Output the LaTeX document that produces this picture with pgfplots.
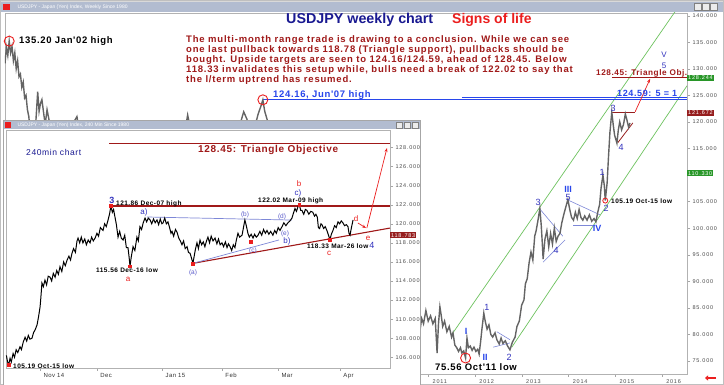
\documentclass[border=0pt]{standalone}
\usepackage{pgfplots}
\pgfplotsset{compat=1.18}
\usepackage{fontspec}
\setmainfont{Liberation Sans}
\newfontfamily\ann[LetterSpace=7]{Liberation Sans}
\newfontfamily\annp[LetterSpace=8.5]{Liberation Sans}
\newfontfamily\tk[LetterSpace=14]{Liberation Sans}
\usetikzlibrary{arrows.meta}
\definecolor{dred}{RGB}{160,25,25}
\definecolor{navy}{RGB}{25,25,145}
\definecolor{wblue}{RGB}{50,50,190}
\definecolor{lblue}{RGB}{40,70,235}
\definecolor{rred}{RGB}{235,30,30}
\definecolor{chg}{RGB}{110,195,95}
\definecolor{tbar}{RGB}{178,188,208}
\definecolor{pgray}{RGB}{100,100,100}
\definecolor{tri}{RGB}{125,135,215}
\definecolor{gbox}{RGB}{40,150,40}
\definecolor{rbox}{RGB}{150,30,30}
\newcommand{\fs}[1]{\fontsize{#1}{#1}\selectfont}
\begin{document}
\begin{tikzpicture}[x=1pt,y=1pt]
\useasboundingbox (0,0) rectangle (724,385);
\fill[white] (0,0) rectangle (724,385);
\fill[tbar] (0,373) rectangle (724,384);
\fill[gray!30] (0,383) rectangle (724,385);
\node[anchor=west,font=\fs{5},text=white] at (14,378) {USDJPY - Japan (Yen) Index, Weekly Since 1980};
\fill[rred] (3,375) rectangle (10,381);
\foreach \bx in {694,702,710}{\fill[gray!15] (\bx,374.5) rectangle (\bx+7,381.5); \draw[gray] (\bx,374.5) rectangle (\bx+7,381.5);}
\draw[gray!50] (0.5,0.5) rectangle (723.5,384.5);

% ================= WEEKLY AXIS =================
\begin{axis}[
  at={(5pt,11pt)}, anchor=south west,
  scale only axis, width=682pt, height=361pt,
  xmin=2001.94, xmax=2016.54, ymin=72.55, ymax=140.5,
  clip mode=individual,
  axis line style={gray!60},
  ytick={75,80,85,90,95,100,105,115,120,125,130,135,140}, ytick pos=right, yticklabel pos=right,
  extra y ticks={110}, extra y tick labels={},
  yticklabel={\pgfmathprintnumber[fixed,fixed zerofill,precision=3,assume math mode=true]{\tick}},
  yticklabel style={font=\tk\fs{5.5}, text=gray!60!black, xshift=-1pt},
  xtick={2011,2012,2013,2014,2015,2016}, xtick pos=left,
  xticklabels={2011,2012,2013,2014,2015,2016},
  xticklabel style={font=\tk\fs{5.5}, text=gray!60!black, anchor=north west, xshift=1pt, yshift=1pt},
  tick style={gray!70}, major tick length=3pt, tick align=outside,
]
% channel lines
\addplot[chg, line width=0.7pt] coordinates {(2011.53,80.3) (2016.54,144.0)};
\addplot[chg, line width=0.7pt] coordinates {(2012.79,77.6) (2016.54,126.8)};
% horizontal levels
\addplot[lblue, line width=0.9pt] coordinates {(2007.46,124.16) (2016.54,124.16)};
\addplot[lblue, line width=0.9pt] coordinates {(2011.72,124.59) (2016.54,124.59)};
\addplot[dred, line width=0.8pt] coordinates {(2014.93,128.45) (2016.54,128.45)};
\addplot[rbox, line width=0.8pt] coordinates {(2014.93,121.86) (2015.43,121.86)};
\addplot[rbox, line width=0.8pt] coordinates {(2015.06,116.1) (2015.38,119.8)};
\addplot[rred, line width=0.7pt, -{Stealth[length=4pt,width=3pt]}] coordinates {(2015.43,121.9) (2015.75,128.1)};
% triangles
\addplot[tri, line width=0.6pt] coordinates {(2013.39,103.6) (2013.88,98.5)};
\addplot[tri, line width=0.6pt] coordinates {(2013.46,93.6) (2013.93,97.8)};
\addplot[tri, line width=0.6pt] coordinates {(2013.99,105.3) (2014.68,102.5)};
\addplot[tri, line width=0.6pt] coordinates {(2014.10,100.6) (2014.57,100.6)};
\addplot[tri, line width=0.6pt] coordinates {(2012.47,80.5) (2012.75,79.0)};
\addplot[tri, line width=0.6pt] coordinates {(2012.39,77.6) (2012.75,78.4)};
% weekly price
\addplot[pgray, line width=1.4pt] coordinates {
(2001.94,131.0) (2001.97,134.0) (2002.0,132.5) (2002.03,135.2) (2002.06,133.0) (2002.09,134.2) (2002.12,131.5) (2002.15,133.0) (2002.18,130.0) (2002.21,131.5) (2002.24,128.5) (2002.27,129.0) (2002.3,126.5) (2002.33,127.5) (2002.36,124.5) (2002.39,125.0) (2002.42,122.3) (2002.45,121.0) (2002.48,118.0) (2002.52,116.5) (2002.56,117.5) (2002.6,120.0) (2002.64,125.7) (2002.67,122.0) (2002.7,123.5) (2002.73,124.2) (2002.77,121.5) (2002.8,119.5) (2002.84,122.3) (2002.88,120.5) (2002.92,118.5) (2003.0,118.0) (2003.2,117.5) (2003.35,119.0) (2003.48,121.0) (2003.55,117.5) (2003.7,111.5) (2003.85,108.5) (2004.0,106.0) (2004.15,105.0) (2004.3,112.0) (2004.45,109.5) (2004.6,111.5) (2004.75,108.5) (2004.95,102.5) (2005.1,104.5) (2005.3,108.0) (2005.5,111.5) (2005.7,113.5) (2005.85,121.3) (2005.95,117.0) (2006.1,118.5) (2006.3,111.5) (2006.45,115.5) (2006.6,117.0) (2006.8,115.5) (2006.97,119.5) (2007.05,121.9) (2007.12,120.5) (2007.2,116.5) (2007.3,119.5) (2007.36,121.5) (2007.42,123.0) (2007.46,124.16) (2007.5,122.0) (2007.55,120.5) (2007.62,114.5) (2007.7,116.0) (2007.85,108.5) (2007.95,112.0) (2008.15,97.5) (2008.3,104.5) (2008.5,108.5) (2008.65,105.5) (2008.8,95.0) (2008.95,88.0) (2009.1,94.0) (2009.28,100.5) (2009.45,94.0) (2009.6,97.0) (2009.8,89.5) (2009.9,87.0) (2010.05,92.5) (2010.2,90.0) (2010.3,94.5) (2010.45,88.0) (2010.6,85.5) (2010.75,82.0) (2010.82,80.5) (2010.86,83.0) (2010.9,82.0) (2010.95,84.5) (2011.0,82.5) (2011.05,83.5) (2011.1,82.0) (2011.15,83.0) (2011.19,76.5) (2011.22,82.0) (2011.25,85.2) (2011.28,83.5) (2011.31,81.5) (2011.35,82.5) (2011.4,80.5) (2011.45,81.5) (2011.5,79.5) (2011.53,80.3) (2011.57,78.0) (2011.61,77.5) (2011.65,76.8) (2011.69,77.5) (2011.72,76.5) (2011.76,76.9) (2011.8,75.56) (2011.83,79.3) (2011.86,77.5) (2011.9,77.8) (2011.94,77.0) (2011.98,77.6) (2012.02,76.8) (2012.06,77.2) (2012.09,76.3) (2012.12,78.5) (2012.15,81.0) (2012.19,84.0) (2012.22,82.5) (2012.26,81.0) (2012.3,81.8) (2012.34,80.0) (2012.38,79.5) (2012.43,80.3) (2012.47,79.0) (2012.52,78.2) (2012.56,79.3) (2012.6,78.3) (2012.65,78.8) (2012.7,77.8) (2012.75,77.1) (2012.8,78.5) (2012.86,79.5) (2012.9,81.5) (2012.95,82.5) (2013.0,85.5) (2013.05,86.5) (2013.08,89.5) (2013.12,90.5) (2013.16,93.5) (2013.2,95.5) (2013.24,94.0) (2013.28,98.5) (2013.31,99.5) (2013.35,101.5) (2013.39,103.7) (2013.42,100.5) (2013.44,97.5) (2013.46,94.2) (2013.5,98.0) (2013.54,99.5) (2013.58,96.5) (2013.62,99.0) (2013.66,97.0) (2013.7,100.0) (2013.74,97.5) (2013.78,98.5) (2013.82,99.0) (2013.86,101.0) (2013.9,102.5) (2013.94,103.8) (2013.99,105.4) (2014.03,103.5) (2014.07,102.0) (2014.11,101.5) (2014.15,103.0) (2014.19,101.8) (2014.23,103.5) (2014.27,102.0) (2014.31,101.5) (2014.35,102.3) (2014.4,101.5) (2014.45,102.5) (2014.5,101.3) (2014.55,101.8) (2014.59,101.2) (2014.63,103.0) (2014.67,104.5) (2014.7,107.5) (2014.74,110.0) (2014.77,108.0) (2014.79,105.19) (2014.83,108.5) (2014.86,113.5) (2014.89,118.0) (2014.93,121.86) (2014.96,119.5) (2014.99,117.5) (2015.04,116.0) (2015.07,118.5) (2015.1,120.0) (2015.14,118.5) (2015.18,119.5) (2015.22,121.5) (2015.25,120.5) (2015.29,119.0) (2015.32,119.8)};
% red circles
\addplot[only marks, mark=o, mark size=5pt, rred, line width=0.9pt] coordinates {(2002.03,135.2) (2007.46,124.16) (2011.8,75.56)};
\addplot[only marks, mark=o, mark size=2.5pt, rred, line width=0.8pt] coordinates {(2014.79,105.19)};
% right axis boxes
\node[anchor=west, fill=gbox, text=white, font=\tk\fs{5.5}, inner sep=1pt] at (axis cs:2016.54,128.244) {128.244};
\node[anchor=west, fill=rbox, text=white, font=\tk\fs{5.5}, inner sep=1pt] at (axis cs:2016.54,121.672) {121.672};
\node[anchor=west, fill=gbox, text=white, font=\tk\fs{5.5}, inner sep=1pt] at (axis cs:2016.54,110.33) {110.330};
\end{axis}

% weekly text (pixel coordinates, y down)
\begin{scope}[shift={(0,385)}, yscale=-1]
\node[anchor=west, font=\fs{14.3}\bfseries, text=navy, inner sep=0] at (286,20) {USDJPY weekly chart};
\node[anchor=west, font=\fs{14}\bfseries, text=rred, inner sep=0] at (452,20) {Signs of life};
\begin{scope}[every node/.style={anchor=west, font=\annp\fs{9.5}\bfseries, text=dred, inner sep=0}]
\node at (186,40) {The multi-month range trade is drawing to a conclusion. While we can see};
\node at (186,50.5) {one last pullback towards 118.78 (Triangle support), pullbacks should be};
\node at (186,60.5) {bought. Upside targets are seen to 124.16/124.59, ahead of 128.45. Below};
\node at (186,70.5) {118.33 invalidates this setup while, bulls need a break of 122.02 to say that};
\node at (186,80.5) {the l/term uptrend has resumed.};
\end{scope}
\node[anchor=west, font=\ann\fs{9.5}\bfseries, inner sep=0] at (19,41) {135.20 Jan'02 high};
\node[anchor=west, font=\ann\fs{9.5}\bfseries, text=lblue, inner sep=0] at (273,95) {124.16, Jun'07 high};
\node[anchor=west, font=\ann\fs{9}\bfseries, text=lblue, inner sep=0] at (617,93) {124.59: 5 = 1};
\node[anchor=west, font=\ann\fs{8.2}\bfseries, text=dred, inner sep=0] at (596,73) {128.45: Triangle Obj.};
\node[anchor=west, font=\ann\fs{9.5}\bfseries, inner sep=0] at (435,367) {75.56 Oct'11 low};
\node[anchor=west, font=\ann\fs{6.5}\bfseries, inner sep=0] at (611,201) {105.19 Oct-15 low};
\begin{scope}[every node/.style={font=\fs{9}, text=wblue, inner sep=0}]
\node at (487,307) {1}; \node at (509,357) {2}; \node at (538,202) {3}; \node at (556,250) {4};
\node at (568,197) {5}; \node at (602,172) {1}; \node at (606,208) {2}; \node at (621,147) {4};
\node at (613,108) {3}; \node[font=\fs{8}] at (664,55) {V}; \node[font=\fs{8}] at (664,65.5) {5};
\end{scope}
\begin{scope}[every node/.style={font=\fs{9}\bfseries, text=lblue, inner sep=0}]
\node at (466,331) {I}; \node at (485,357) {II}; \node at (568,189) {III}; \node at (597,228) {IV};
\end{scope}
\draw[rred, line width=1.5pt, -{Triangle[length=3pt,width=5pt]}] (419,372) -- (408,372);
\draw[rred, line width=1.5pt, -{Triangle[length=3pt,width=5pt]}] (716,378) -- (705,378);
\end{scope}

% ================= INSET WINDOW =================
\fill[white] (3,0) rectangle (420,265);
\fill[tbar] (3,255.5) rectangle (420,265);
\fill[rred] (5,257) rectangle (11,263);
\node[anchor=west,font=\fs{5},text=white] at (14,260) {USDJPY - Japan (Yen) Index, 240 Min Since 1980};
\foreach \bx in {396,404,412}{\fill[gray!15] (\bx,256.5) rectangle (\bx+6.5,263); \draw[gray] (\bx,256.5) rectangle (\bx+6.5,263);}
\draw[gray!70, line width=0.8pt] (3,0) rectangle (420,265);

\begin{axis}[
  at={(6pt,17pt)}, anchor=south west,
  scale only axis, width=384pt, height=238pt,
  xmin=-1, xmax=188.2, ymin=104.88, ymax=129.83,
  clip mode=individual,
  axis line style={gray!60},
  ytick={106,108,...,128}, ytick pos=right, yticklabel pos=right,
  yticklabel={\pgfmathprintnumber[fixed,fixed zerofill,precision=3,assume math mode=true]{\tick}},
  yticklabel style={font=\tk\fs{5.5}, text=gray!60!black, xshift=-1pt},
  xtick={15.8,43.8,75.9,105.4,133.0,163.5}, xtick pos=left,
  xticklabels={Nov 14,Dec,Jan 15,Feb,Mar,Apr},
  xticklabel style={font=\ann\fs{6}, text=gray!40!black, anchor=north west, xshift=0pt, yshift=1pt},
  tick style={gray!70}, major tick length=3pt, tick align=outside,
]
\addplot[dred, line width=1.1pt] coordinates {(49.8,128.45) (188.2,128.45)};
\addplot[dred, line width=1.1pt] coordinates {(51.2,121.86) (188.2,121.86)};
\addplot[dred, line width=1.1pt] coordinates {(91.1,115.85) (188.2,119.55)};
\addplot[tri, line width=0.7pt] coordinates {(68.5,120.71) (139.9,120.39)};
\addplot[tri, line width=0.7pt] coordinates {(91.1,115.85) (133.5,118.3)};
\addplot[black, line width=1.0pt] coordinates {
(-0.8,106.2) (-0.3,105.6) (0.3,105.19) (1,105.9) (1.6,105.5) (2.5,106.4) (3.2,106.0) (4,106.8) (4.8,106.5) (5.9,107.1) (6.6,106.8) (7.5,107.6) (8.4,108.1) (9.2,107.7) (10,108.3) (10.8,107.9) (11.8,108.0) (12.6,108.6) (13.4,108.9) (14.3,109.4) (15,110.2) (15.8,111.3) (16.3,112.6) (16.7,113.8) (17.4,113.4) (18.2,114.1) (19,113.6) (19.8,114.5) (20.7,114.4) (21.5,114.0) (22.3,114.8) (23.2,114.4) (24,115.1) (24.8,114.7) (25.6,115.5) (26.5,115.0) (27.4,116.0) (28.2,115.6) (29.1,116.2) (30,116.6) (30.8,116.2) (31.5,116.9) (32.3,117.4) (33.2,117.0) (34,118.2) (34.5,118.5) (35.3,118.0) (36.1,118.6) (36.9,118.0) (37.8,118.4) (38.6,117.8) (39.5,118.3) (40.4,118.0) (41.2,118.6) (42,118.2) (42.9,118.5) (43.8,119.0) (44.6,118.7) (45.5,119.6) (46.8,119.3) (47.6,120.0) (48.4,119.7) (49.3,120.4) (50,121.0) (50.7,121.86) (51.4,121.2) (52,121.5) (52.7,120.7) (53.4,119.9) (54.2,118.6) (55,119.2) (55.8,118.5) (56.7,118.3) (57.5,118.8) (58.3,117.5) (59.1,117.5) (59.6,116.6) (60.1,115.56) (60.7,116.5) (61.6,117.6) (62.5,117.2) (63.5,118.6) (64.2,118.2) (65,119.7) (65.8,119.4) (66.6,120.1) (67.5,120.6) (68.3,120.2) (69.1,120.6) (70,120.4) (70.8,120.0) (71.7,120.5) (72.5,120.1) (73.4,120.4) (74.2,119.9) (75,120.5) (75.8,120.0) (76.4,120.1) (77.2,120.6) (78,120.0) (78.8,120.2) (79.6,119.6) (80.3,119.0) (80.8,119.2) (81.6,118.7) (82.5,119.4) (83.3,119.1) (84.1,118.5) (84.9,118.2) (85.7,117.8) (86.5,118.2) (87.3,117.4) (88.2,117.6) (88.9,117.0) (89.7,116.9) (90.4,116.4) (91.1,115.85) (91.8,116.7) (92.4,117.4) (93.1,118.0) (93.8,117.4) (94.6,118.3) (95.4,117.8) (96.2,118.1) (97,117.6) (97.8,118.2) (98.5,118.6) (99.3,118.0) (100.1,118.7) (101,118.2) (102,118.5) (102.9,117.9) (103.7,118.4) (104.5,117.8) (105.4,118.0) (106.2,117.6) (107.1,118.1) (107.9,117.5) (108.6,117.9) (109.4,117.6) (110.2,117.2) (111,117.8) (111.8,117.5) (112.5,118.3) (113.3,119.0) (114.1,118.6) (115.3,118.8) (116,119.6) (116.7,120.4) (117.4,119.8) (118.2,119.0) (118.9,118.6) (119.8,118.9) (120.7,118.5) (121.5,118.9) (122.3,118.6) (123.2,118.8) (124.1,119.2) (125,118.8) (125.9,119.4) (126.8,119.0) (127.6,119.3) (128.5,118.9) (129.4,119.2) (130.5,118.8) (131.4,119.3) (132.2,119.0) (133.1,119.6) (134,119.3) (135,119.7) (135.9,120.1) (136.9,119.8) (137.9,120.1) (138.9,120.3) (139.9,120.6) (140.6,121.1) (141.4,121.6) (142.1,121.3) (142.9,121.8) (143.5,122.02) (144.2,121.4) (144.8,121.4) (145.7,121.0) (146.5,121.5) (147.3,121.4) (148.2,121.0) (149.2,121.3) (150.2,121.2) (151,120.8) (151.7,121.0) (152.4,120.7) (152.9,119.6) (153.5,119.5) (154.2,120.0) (154.7,119.9) (155.5,119.5) (156.3,119.7) (157.1,119.3) (157.9,118.8) (158.6,118.33) (159.3,118.9) (160.1,119.3) (160.9,119.8) (161.7,119.6) (162.6,120.2) (163.4,120.0) (164.2,120.3) (165,120.1) (165.8,119.8) (166.7,119.9) (167.5,119.7) (168,119.0) (168.5,118.8) (169.2,119.6) (170,120.4)};
\addplot[only marks, mark=square*, mark size=1.4pt, rred] coordinates {(0.3,105.19) (50.7,121.86) (60.1,115.56) (91.1,115.85) (119.7,118.1) (143.5,122.02) (158.6,118.33)};
\addplot[rred, line width=0.7pt, -{Stealth[length=4pt,width=3pt]}] coordinates {(172.4,120.08) (176.4,119.55)};
\addplot[rred, line width=0.7pt, -{Stealth[length=4pt,width=3pt]}] coordinates {(176.8,119.55) (186.7,127.94)};
\node[anchor=west, fill=rbox, text=white, font=\tk\fs{5.5}, inner sep=1pt] at (axis cs:188.2,118.783) {118.783};
\end{axis}

\begin{scope}[shift={(0,385)}, yscale=-1]
\node[anchor=west, font=\ann\fs{8.5}, text=navy, inner sep=0] at (26,152) {240min chart};
\node[anchor=west, font=\ann\fs{10}\bfseries, text=dred, inner sep=0] at (198,150) {128.45: Triangle Objective};
\begin{scope}[every node/.style={anchor=west, font=\ann\fs{6.5}\bfseries, inner sep=0}]
\node at (116,204) {121.86 Dec-07 high};
\node at (258,201) {122.02 Mar-09 high};
\node at (96,270) {115.56 Dec-16 low};
\node at (307,246) {118.33 Mar-26 low};
\node at (13,366) {105.19 Oct-15 low};
\end{scope}
\begin{scope}[every node/.style={font=\fs{8}, text=rred, inner sep=0}]
\node at (299,184) {b}; \node at (128,279) {a}; \node at (329,253) {c}; \node at (356,219) {d}; \node at (368,238) {e};
\end{scope}
\begin{scope}[every node/.style={font=\fs{8}, text=wblue, inner sep=0}]
\node at (298,193) {c)}; \node at (144,212) {a)}; \node at (287,241) {b)};
\node[font=\fs{9}\bfseries] at (112,200) {3}; \node[font=\fs{9}] at (372,245) {4};
\end{scope}
\begin{scope}[every node/.style={font=\fs{6.5}, text=wblue!80!white, inner sep=0}]
\node at (245,215) {(b)}; \node at (282,217) {(d)}; \node at (285,234) {(e)}; \node at (253,251) {(c)}; \node at (193,273) {(a)};
\end{scope}
\end{scope}
\end{tikzpicture}
\end{document}
